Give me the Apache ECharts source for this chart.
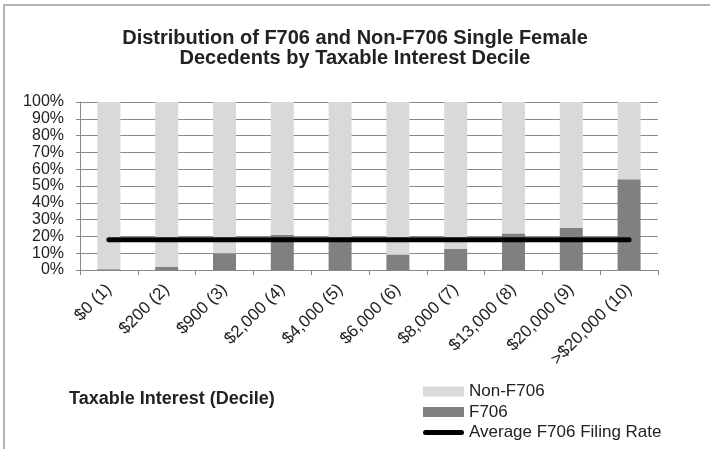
<!DOCTYPE html>
<html><head>
<meta charset="UTF-8">
<title>F706 by Taxable Interest Decile</title>
<script src="https://cdn.jsdelivr.net/npm/echarts@6/dist/echarts.min.js"></script>
<style>
html,body{margin:0;padding:0;background:#fff;}
#chart{width:710px;height:449px;}
</style>
</head>
<body>
<div id="chart"></div>
<script>
// deciles of taxable interest
var deciles = ['$0 (1)', '$200 (2)', '$900 (3)', '$2,000 (4)', '$4,000 (5)', '$6,000 (6)',
	'$8,000 (7)', '$13,000 (8)', '$20,000 (9)', '>$20,000 (10)'];
// share of decedents filing F706, percent
var f706 = [0.5, 2, 10, 21, 19, 9.3, 12.5, 21.8, 25.2, 54];
// share not filing
var nonF706 = [99.5, 98, 90, 79, 81, 90.7, 87.5, 78.2, 74.8, 46];
// average filing rate across all deciles
var avgRate = [18, 18, 18, 18, 18, 18, 18, 18, 18, 18];
var yTicks = [0, 10, 20, 30, 40, 50, 60, 70, 80, 90, 100];

var FONT = '"Liberation Sans", Arial, sans-serif';
var gridColor = '#898989';
// thick rounded line used as legend icon for the average
var lineIcon = 'path://M2.5,0 L38.5,0 A2.5,2.5 0 0 1 38.5,5 L2.5,5 A2.5,2.5 0 0 1 2.5,0 Z';

var option = {
	animation: false,
	textStyle: {fontFamily: FONT},
	title: {
		text: 'Distribution of F706 and Non-F706 Single Female\nDecedents by Taxable Interest Decile',
		left: 'center', top: 23,
		textStyle: {fontSize: 20, fontWeight: 'bold', color: '#222', lineHeight: 20, fontFamily: FONT}
	},
	grid: {left: 80, right: 52, top: 102, bottom: 179},
	legend: {
		orient: 'vertical', left: 423, top: 383, padding: 0,
		itemWidth: 41, itemHeight: 10, itemGap: 3.5,
		textStyle: {fontSize: 17, color: '#222', lineHeight: 17},
		data: [
			{name: 'Non-F706', icon: 'rect'},
			{name: 'F706', icon: 'rect'},
			{name: 'Average F706 Filing Rate', icon: lineIcon}
		]
	},
	xAxis: {
		type: 'category', data: deciles,
		axisLine: {lineStyle: {color: gridColor, width: 1}},
		axisTick: {show: true, length: 5, lineStyle: {color: gridColor}},
		axisLabel: {rotate: 45, margin: 17, fontSize: 17, color: '#222', interval: 0}
	},
	yAxis: {
		type: 'value', min: 0, max: 100, interval: 10,
		axisLine: {show: true, lineStyle: {color: gridColor, width: 1}},
		axisTick: {show: true, length: 4, lineStyle: {color: gridColor}},
		splitLine: {lineStyle: {color: gridColor, width: 1}},
		axisLabel: {
			fontSize: 16, color: '#222', margin: 16,
			formatter: function(v){ return yTicks.indexOf(v) >= 0 ? v + '%' : ''; }
		}
	},
	series: [
		{name: 'F706', type: 'bar', stack: 'all', data: f706, barWidth: 23,
			itemStyle: {color: '#808080'}},
		{name: 'Non-F706', type: 'bar', stack: 'all', data: nonF706, barWidth: 23,
			itemStyle: {color: '#d9d9d9'}},
		{name: 'Average F706 Filing Rate', type: 'line', data: avgRate, symbol: 'none', z: 5,
			lineStyle: {color: '#000', width: 5, cap: 'round'}, itemStyle: {color: '#000'}}
	],
	graphic: [
		{type: 'polyline', shape: {points: [[4, 449], [4, 5], [710, 5]]},
			style: {stroke: '#9a9a9a', lineWidth: 1.5, fill: null}, silent: true},
		{type: 'text', left: 69, top: 390,
			style: {text: 'Taxable Interest (Decile)', fontSize: 18, fontWeight: 'bold', fill: '#222', fontFamily: FONT}}
	]
};

var chart = echarts.init(document.getElementById('chart'));
chart.setOption(option);
</script>
</body>
</html>
